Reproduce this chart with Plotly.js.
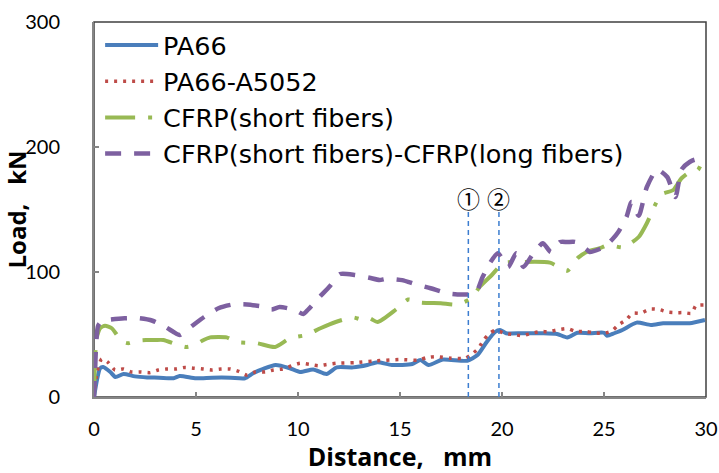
<!DOCTYPE html>
<html>
<head>
<meta charset="utf-8">
<script src="https://cdn.plot.ly/plotly-3.0.1.min.js"></script>
<style>html,body{margin:0;padding:0;background:#fff;}</style>
</head>
<body>
<div id="chart" style="width:719px;height:473px;"></div>
<script>
// ---- data ----
var seriesNames = ['PA66', 'PA66-A5052', 'CFRP(short fibers)', 'CFRP(short fibers)-CFRP(long fibers)'];

var pa66X = [0, 0.15, 0.3, 0.45, 0.8, 1.05, 1.45, 2.0, 2.6, 3.2, 3.9, 4.2, 5.0, 5.8, 6.7, 7.4, 7.8, 8.3, 8.9, 9.6, 10.1, 10.75, 11.4, 11.9, 12.7, 13.4, 13.9, 14.6, 15.6, 16.0, 16.4, 17.1, 18.3, 18.8, 19.25, 19.66, 19.9, 20.2, 21.0, 22.0, 22.7, 23.2, 23.7, 24.3, 25.0, 25.15, 25.5, 25.9, 26.6, 27.3, 27.9, 28.5, 29.2, 29.95];
var pa66Y = [0, 14, 23, 24, 20, 16, 18.4, 16.5, 15.7, 15.5, 15, 16.8, 15, 15.5, 15.5, 15, 19, 22.5, 25.6, 23, 20, 22, 18.4, 23.7, 23.7, 25.6, 27.8, 25.6, 26.4, 29.6, 25.6, 30, 29, 33.6, 44, 52, 53.6, 51, 51, 51, 50.4, 47.7, 51.4, 51, 51.4, 49, 51, 53.6, 59.5, 57.6, 59, 59, 59, 61.6];

var a5052X = [0, 0.15, 0.38, 0.7, 1.03, 1.43, 1.85, 2.25, 2.75, 3.15, 3.56, 4.0, 4.46, 4.9, 5.35, 5.78, 6.22, 6.67, 7.1, 7.5, 7.9, 8.4, 8.8, 9.25, 9.7, 10.1, 10.6, 11.0, 11.4, 11.9, 12.8, 13.7, 15.0, 15.9, 16.3, 16.8, 17.5, 18.2, 18.5, 18.85, 19.1, 19.4, 19.7, 20.1, 20.55, 21.0, 21.45, 21.9, 22.3, 22.8, 23.2, 23.6, 24.1, 24.5, 25.0, 25.4, 25.7, 26.1, 26.4, 26.8, 27.25, 27.7, 28.1, 28.5, 28.9, 29.3, 29.5, 29.95];
var a5052Y = [0, 20, 30.5, 27.5, 21.6, 22.4, 20, 20, 19.5, 21.6, 22.4, 22.4, 23.7, 23, 22.4, 21.6, 22.4, 22.4, 20.5, 17.6, 20, 20, 21.6, 22.4, 25, 27, 26, 25, 26, 27, 27.5, 28.8, 30, 29.5, 31.5, 32.3, 31, 31, 34, 39, 45.6, 51, 53.6, 51, 50, 49, 51, 52.3, 52.3, 54, 54.7, 52.6, 52.3, 51.5, 51, 53, 57.6, 62, 67, 67, 70.4, 70, 68, 67.5, 67.5, 67, 73, 73.6];

var shortX = [0, 0.05, 0.13, 0.3, 0.54, 0.87, 1.2, 1.44, 1.68, 2.1, 2.55, 3.0, 3.4, 4.05, 4.5, 4.95, 5.3, 5.7, 6.1, 6.5, 7.0, 8.0, 8.87, 9.6, 10.4, 11.1, 11.85, 12.7, 13.2, 13.5, 13.9, 14.8, 15.4, 16.0, 17.0, 17.8, 18.5, 18.9, 19.5, 20.05, 21.0, 22.35, 23.2, 23.7, 24.15, 24.8, 25.2, 25.95, 26.7, 27.1, 27.4, 27.8, 28.4, 28.8, 29.2, 29.6, 29.95];
var shortY = [0, 30, 47, 55, 57, 55, 48, 44, 43, 45, 45.6, 45.6, 45.6, 42, 40, 41.6, 45, 47.7, 48, 47.7, 44, 43, 40, 47, 49.6, 55, 60, 63.7, 61.6, 63, 60, 70, 78, 75.5, 75, 74, 79, 88, 97.6, 107, 108, 107.5, 101, 111, 116, 119, 121.6, 119.7, 128, 139, 150, 162, 165.6, 175, 180, 181.6, 193.6];

var longX = [0, 0.05, 0.1, 0.2, 0.4, 0.8, 1.5, 2.2, 2.87, 3.56, 3.9, 4.2, 4.8, 5.4, 6.1, 6.8, 7.5, 8.0, 8.4, 8.7, 9.1, 9.85, 10.26, 10.5, 11.0, 11.57, 12.06, 12.8, 13.5, 14.0, 14.35, 15.1, 15.8, 16.5, 17.3, 18.0, 18.7, 19.05, 19.4, 19.8, 20.3, 20.7, 21.05, 21.5, 22.0, 22.4, 22.85, 23.2, 23.6, 24.15, 24.3, 25.0, 25.4, 25.7, 26.1, 26.35, 26.7, 27.1, 27.6, 28.1, 28.5, 28.8, 29.2, 29.5, 29.95];
var longY = [0, 20, 40, 57, 61, 62, 63, 63, 61, 55.5, 52, 49.6, 56.8, 64, 71, 74, 74, 73, 72, 70, 72, 69.6, 66.4, 70, 79, 88.8, 98.4, 97.6, 95.4, 93.6, 94.6, 93.5, 90, 87, 83, 82, 83, 96, 107, 115, 104, 115, 104, 114, 123, 116, 124, 124, 124, 118, 116, 120, 126, 132, 144, 156, 145, 168, 182, 176, 160, 182, 188, 190, 186];

var xTicks = [0, 5, 10, 15, 20, 25, 30];
var yTicks = [0, 100, 200, 300];
var markerX = [18.35, 19.85];
var markerLabels = ['①', '②'];
var markerTop = 148;
var markerLabelY = 159;

// ---- traces ----
var traces = [
  {x: pa66X, y: pa66Y, name: seriesNames[0], type: 'scatter', mode: 'lines',
   line: {color: '#4A7EBB', width: 4, shape: 'spline', smoothing: 0.6}},
  {x: a5052X, y: a5052Y, name: seriesNames[1], type: 'scatter', mode: 'lines',
   line: {color: '#BE4B48', width: 3.5, dash: '3px,6px', shape: 'spline', smoothing: 0.6}},
  {x: shortX, y: shortY, name: seriesNames[2], type: 'scatter', mode: 'lines',
   line: {color: '#98B954', width: 4, dash: '30px,13px,4px,13px', shape: 'spline', smoothing: 0.6}},
  {x: longX, y: longY, name: seriesNames[3], type: 'scatter', mode: 'lines',
   line: {color: '#7D60A0', width: 4.5, dash: '16px,13px', shape: 'spline', smoothing: 0.6}}
];

var shapes = [{type: 'rect', xref: 'paper', yref: 'paper', x0: 0, x1: 1, y0: 0, y1: 1,
  line: {color: '#404040', width: 1.5}, layer: 'below'}];
var annotations = [];
markerX.forEach(function (mx, i) {
  shapes.push({type: 'line', xref: 'x', yref: 'y', x0: mx, x1: mx, y0: 0, y1: markerTop,
    line: {color: '#3C7DD0', width: 1.5, dash: '5px,4px'}});
  annotations.push({x: mx, y: markerLabelY, xref: 'x', yref: 'y', text: markerLabels[i],
    showarrow: false, font: {family: '"Noto Sans CJK JP", sans-serif', size: 23, color: '#000'}});
});

var baseFamily = '"Open Sans", Lato, "Liberation Sans", sans-serif';
var axisFont = {family: 'Lato, "Liberation Sans", sans-serif', size: 20, color: '#000'};
var layout = {
  width: 719, height: 473,
  margin: {l: 94, r: 13, t: 22, b: 76},
  paper_bgcolor: '#fff', plot_bgcolor: '#fff',
  font: {family: baseFamily, color: '#000'},
  showlegend: true,
  legend: {x: 0.01, y: 1.0, xanchor: 'left', yanchor: 'top', bgcolor: 'rgba(0,0,0,0)',
    font: {family: '"DejaVu Sans", "Open Sans", sans-serif', size: 25.5, color: '#000'},
    itemwidth: 53, tracegroupgap: 0},
  xaxis: {range: [0, 30], tickvals: xTicks, ticks: 'inside', ticklen: 5, tickwidth: 1.5, tickcolor: '#868686',
    showline: true, linecolor: '#868686', linewidth: 2, showgrid: false, zeroline: false,
    tickfont: axisFont, ticklabelstandoff: 13,
    title: {text: 'Distance,\u00a0\u00a0\u00a0mm', font: {family: baseFamily, size: 25, weight: 'bold', color: '#000'}, standoff: 2}},
  yaxis: {range: [0, 300], tickvals: yTicks, ticks: 'inside', ticklen: 5, tickwidth: 1.5, tickcolor: '#868686',
    showline: true, linecolor: '#868686', linewidth: 2, showgrid: false, zeroline: false,
    tickfont: axisFont, ticklabelstandoff: 28,
    title: {text: 'Load,\u00a0\u00a0\u00a0kN', font: {family: baseFamily, size: 24, weight: 'bold', color: '#000'}, standoff: 2}},
  shapes: shapes,
  annotations: annotations
};

Plotly.newPlot('chart', traces, layout, {displayModeBar: false, staticPlot: true});
</script>
</body>
</html>
